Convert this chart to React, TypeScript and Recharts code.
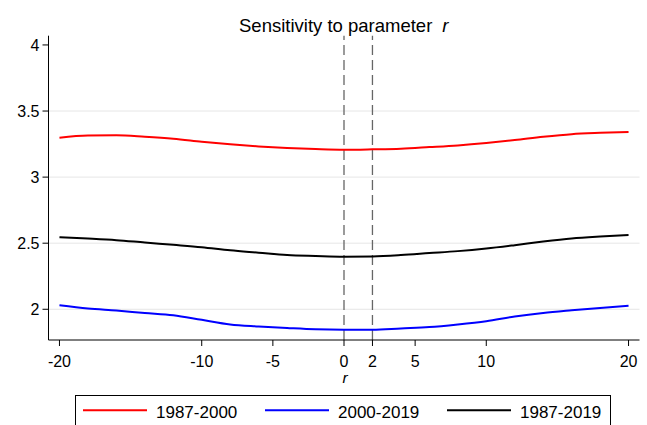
import React from 'react';
import { LineChart, Line, XAxis, YAxis, ReferenceLine } from 'recharts';

// ---- data ----
const rValues = [-20, -18, -16, -14, -12, -10, -8, -6, -4, -2, 0, 2, 4, 6, 8, 10, 12, 14, 16, 18, 20];
const series8700 = [3.298, 3.314, 3.316, 3.305, 3.29, 3.268, 3.248, 3.232, 3.22, 3.212, 3.207, 3.21, 3.215, 3.227, 3.24, 3.258, 3.28, 3.305, 3.325, 3.335, 3.342];
const series0019 = [2.03, 2.005, 1.99, 1.972, 1.955, 1.92, 1.885, 1.87, 1.858, 1.848, 1.845, 1.845, 1.855, 1.865, 1.885, 1.91, 1.945, 1.972, 1.992, 2.01, 2.027];
const series8719 = [2.545, 2.535, 2.523, 2.505, 2.488, 2.47, 2.446, 2.428, 2.41, 2.403, 2.398, 2.4, 2.41, 2.425, 2.44, 2.46, 2.485, 2.512, 2.535, 2.55, 2.562];
const seriesNames = ['1987-2000', '2000-2019', '1987-2019'];
const seriesColors = ['#ff0000', '#0000ff', '#000000'];
const xTicks = [-20, -10, -5, 0, 2, 5, 10, 20];
const yTicks = [2, 2.5, 3, 3.5, 4];
const gridValues = [2, 2.5, 3, 3.5];
const refLines = [0, 2];
const titleText = 'Sensitivity to parameter';
const titleVar = 'r';
const xLabel = 'r';

const seriesKeys = ['s8700', 's0019', 's8719'];
const rows = rValues.map((r, i) => ({
  r,
  s8700: series8700[i],
  s0019: series0019[i],
  s8719: series8719[i],
}));

const FONT = '"Liberation Sans", Arial, Helvetica, sans-serif';

const LegendBox = () => (
  <svg width={540} height={31} style={{ position: 'absolute', left: 75, top: 395, overflow: 'visible' }}>
    <rect x={0.5} y={0.5} width={535} height={40} fill="#fff" stroke="#000" strokeWidth={1} />
    {seriesNames.map((name, i) => (
      <g key={name}>
        <line x1={8 + i * 182} x2={72 + i * 182} y1={15.3} y2={15.3} stroke={seriesColors[i]} strokeWidth={2} />
        <text x={81 + i * 182} y={23} fontSize={17} fontFamily={FONT} fill="#000">{name}</text>
      </g>
    ))}
  </svg>
);

export default function App() {
  return (
    <div style={{ position: 'absolute', left: 0, top: 0, width: 647, height: 425, overflow: 'hidden', background: '#fff', fontFamily: FONT }}>
      <LineChart width={647} height={425} data={rows} margin={{ top: 35.7, right: 7.5, left: 0, bottom: 40 }}>
        {gridValues.map((v) => (
          <ReferenceLine key={'g' + v} y={v} stroke="#e6e6e6" strokeWidth={1} />
        ))}
        <XAxis
          dataKey="r"
          type="number"
          domain={[-20.77, 20.77]}
          allowDataOverflow
          ticks={xTicks}
          interval={0}
          height={45}
          tickSize={6}
          tickMargin={10}
          stroke="#000"
          tick={{ fill: '#000', fontSize: 16, fontFamily: FONT }}
          axisLine={{ stroke: '#000', strokeWidth: 1 }}
          tickLine={{ stroke: '#000' }}
        />
        <YAxis
          type="number"
          domain={[1.7675, 4.07]}
          allowDataOverflow
          ticks={yTicks}
          interval={0}
          width={48.5}
          tickSize={6}
          tickMargin={3}
          stroke="#000"
          tick={{ fill: '#000', fontSize: 16, fontFamily: FONT }}
          axisLine={{ stroke: '#000', strokeWidth: 1 }}
          tickLine={{ stroke: '#000' }}
        />
        {refLines.map((v) => (
          <ReferenceLine key={'r' + v} x={v} stroke="#666" strokeWidth={1.3} strokeDasharray="10 5" />
        ))}
        {seriesKeys.map((k, i) => (
          <Line
            key={k}
            dataKey={k}
            name={seriesNames[i]}
            stroke={seriesColors[i]}
            strokeWidth={2}
            dot={false}
            type="monotone"
            isAnimationActive={false}
          />
        ))}
      </LineChart>
      <svg width={647} height={425} style={{ position: 'absolute', left: 0, top: 0, pointerEvents: 'none' }}>
        <text x={239} y={32} fontSize={18.5} fontFamily={FONT} fill="#000">
          {titleText}
          <tspan dx={10} fontStyle="italic">{titleVar}</tspan>
        </text>
        <text x={345} y={383} fontSize={15.5} fontFamily={FONT} fontStyle="italic" textAnchor="middle" fill="#000">{xLabel}</text>
      </svg>
      <LegendBox />
    </div>
  );
}
